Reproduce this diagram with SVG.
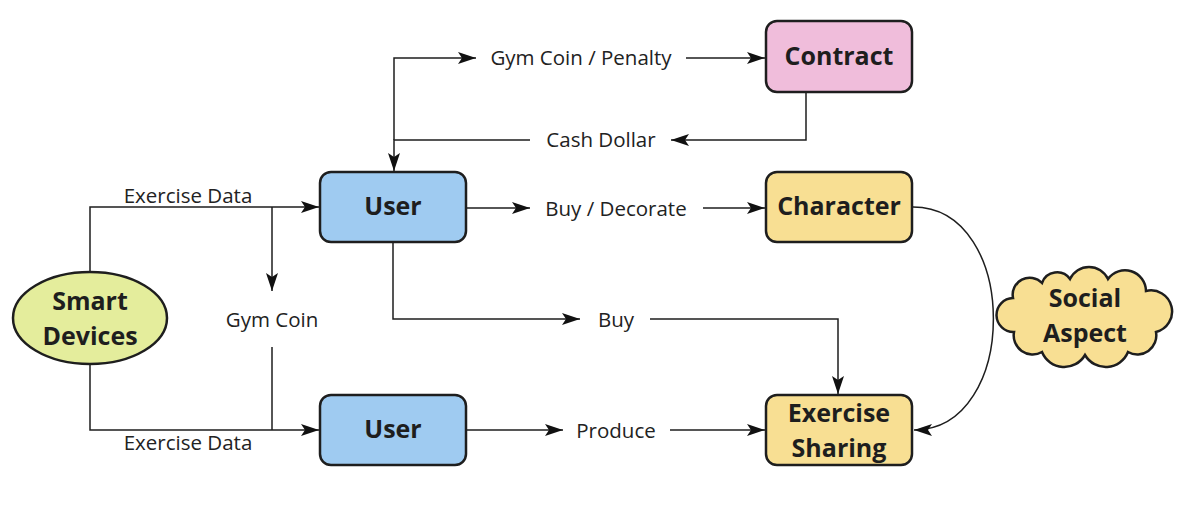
<svg xmlns="http://www.w3.org/2000/svg" width="1204" height="514" viewBox="0 0 1204 514">
<style>
.node{stroke:#1e1e1e;stroke-width:2.5}
.blue{fill:#9fcbf1}
.pink{fill:#f0bddb}
.yellow{fill:#f8df93}
.green{fill:#e4ed9c}
.nt{font-family:"Open Sans","Liberation Sans",sans-serif;font-weight:bold;font-size:25px;fill:#1e1e1e;text-anchor:middle;dominant-baseline:central}
.lt{font-family:"Open Sans","Liberation Sans",sans-serif;font-size:20.5px;fill:#222;text-anchor:middle;dominant-baseline:central}
.c{fill:none;stroke:#1e1e1e;stroke-width:1.5}
</style>
<defs>
<marker id="arr" viewBox="0 0 18 12" refX="18" refY="6" markerWidth="18" markerHeight="12" markerUnits="userSpaceOnUse" orient="auto">
<path d="M0,0 L18,6 L0,12 L4,6 z" fill="#111"/>
</marker>
</defs>
<rect width="1204" height="514" fill="#fff"/>
<g id="connectors">
<path class="c" d="M90,272 V207 H319" marker-end="url(#arr)"/>
<path class="c" d="M272,207 V291" marker-end="url(#arr)"/>
<path class="c" d="M272,347 V430"/>
<path class="c" d="M90,364 V430 H319" marker-end="url(#arr)"/>
<path class="c" d="M394,140 V58 H476" marker-end="url(#arr)"/>
<path class="c" d="M686,58 H765" marker-end="url(#arr)"/>
<path class="c" d="M806,93 V140 H671" marker-end="url(#arr)"/>
<path class="c" d="M530,140 H394 V171" marker-end="url(#arr)"/>
<path class="c" d="M467,208 H530" marker-end="url(#arr)"/>
<path class="c" d="M703,208 H765" marker-end="url(#arr)"/>
<path class="c" d="M393,243 V319 H580" marker-end="url(#arr)"/>
<path class="c" d="M650,319 H838 V394" marker-end="url(#arr)"/>
<path class="c" d="M467,430 H563" marker-end="url(#arr)"/>
<path class="c" d="M670,430 H765" marker-end="url(#arr)"/>
<path class="c" d="M913,207 C1020,207 1020,430 914,430" marker-end="url(#arr)"/>
<text class="lt" x="188" y="195">Exercise Data</text>
<text class="lt" x="188" y="442">Exercise Data</text>
<text class="lt" x="272" y="319">Gym Coin</text>
<text class="lt" x="581" y="57">Gym Coin / Penalty</text>
<text class="lt" x="601" y="139">Cash Dollar</text>
<text class="lt" x="616" y="208">Buy / Decorate</text>
<text class="lt" x="616" y="319">Buy</text>
<text class="lt" x="616" y="430">Produce</text>
</g>
<g id="smart-devices">
<ellipse class="node green" cx="90" cy="318" rx="77" ry="46"/>
<text class="nt" x="90" y="300">Smart</text>
<text class="nt" x="90" y="335">Devices</text>
</g>
<g id="user-1">
<rect class="node blue" x="320" y="172" width="146" height="70" rx="11"/>
<text class="nt" x="393" y="205">User</text>
</g>
<g id="user-2">
<rect class="node blue" x="320" y="395" width="146" height="70" rx="11"/>
<text class="nt" x="393" y="428">User</text>
</g>
<g id="contract">
<rect class="node pink" x="766" y="21" width="146" height="71" rx="11"/>
<text class="nt" x="839" y="55">Contract</text>
</g>
<g id="character">
<rect class="node yellow" x="766" y="172" width="146" height="70" rx="11"/>
<text class="nt" x="839" y="205">Character</text>
</g>
<g id="exercise-sharing">
<rect class="node yellow" x="766" y="395" width="146" height="70" rx="11"/>
<text class="nt" x="839" y="412">Exercise</text>
<text class="nt" x="839" y="447">Sharing</text>
</g>
<g id="social-aspect">
<path class="node yellow" d="M1013,298 A17,17 0 0 1 1042,283 A16,16 0 0 1 1070,279 A21,21 0 0 1 1108,279 A21,21 0 0 1 1146,291 A21,21 0 0 1 1156,332 A19,19 0 0 1 1128,352 A24,24 0 0 1 1085,355 A24,24 0 0 1 1042,352 A19,19 0 0 1 1014,332 A17,17 0 0 1 1013,298 z"/>
<text class="nt" x="1085" y="297">Social</text>
<text class="nt" x="1085" y="332">Aspect</text>
</g>
</svg>
